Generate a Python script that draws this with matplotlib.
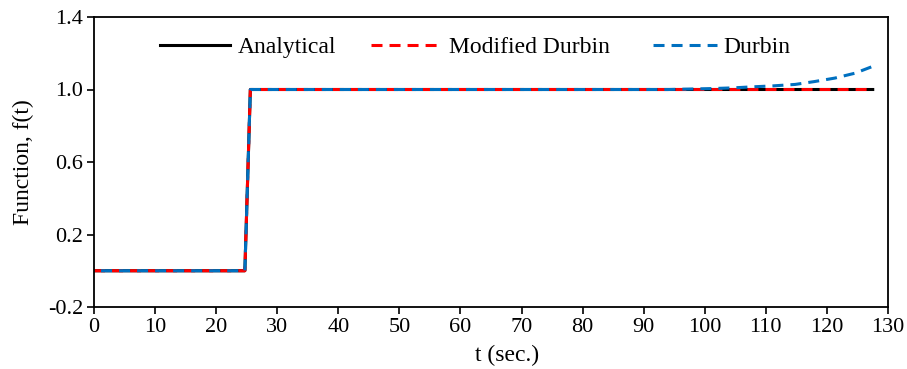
import numpy as np
import matplotlib.pyplot as plt

plt.rcParams['font.family'] = ['Liberation Serif', 'DejaVu Serif']

# data
t_analytical = [0, 24.7, 25.6, 127.5]
f_analytical = [0.0, 0.0, 1.0, 1.0]

t_modified = [0, 24.7, 25.6, 127.5]
f_modified = [0.0, 0.0, 1.0, 1.0]

t_durbin = [0, 24.7, 25.6, 94, 101, 104.6, 108, 111.2, 114.8, 118, 121.3, 124.6, 127.3]
f_durbin = [0.0, 0.0, 1.0, 1.0, 1.005, 1.009, 1.015, 1.02, 1.028, 1.044, 1.063, 1.09, 1.125]

xticks = np.arange(0, 131, 10)
yticks = [-0.2, 0.2, 0.6, 1.0, 1.4]
ytick_labels = ['-0.2', '0.2', '0.6', '1.0', '1.4']

fig, ax = plt.subplots(figsize=(9.07, 3.69), dpi=100)
fig.subplots_adjust(left=94 / 907, right=888 / 907, top=1 - 17 / 369, bottom=1 - 307 / 369)

dash = (3.6, 2.3)
ax.plot(t_analytical, f_analytical, color='black', lw=2.2, label='Analytical')
ax.plot(t_modified, f_modified, color='#ff0000', lw=2.2, ls=(0, dash), label='Modified Durbin')
ax.plot(t_durbin, f_durbin, color='#0070c0', lw=2.2, ls=(3.6, dash), label='Durbin')

ax.set_xlim(0, 130)
ax.set_ylim(-0.2, 1.4)
ax.set_xticks(xticks)
ax.set_yticks(yticks)
ax.set_yticklabels(ytick_labels)
ax.tick_params(labelsize=16, direction='out', length=5, width=1.2, pad=3)
for s in ax.spines.values():
    s.set_linewidth(1.3)

ax.set_xlabel('t (sec.)', fontsize=17, labelpad=0)
ax.xaxis.set_label_coords(0.52, -0.13)
ax.set_ylabel('Function, f(t)', fontsize=17, labelpad=10)

ax.legend(loc='upper center', ncol=3, frameon=False, fontsize=17,
          handlelength=3.0, handletextpad=0.3, columnspacing=1.5,
          bbox_to_anchor=(0.48, 1.005))

fig.savefig('out.png', dpi=100)
